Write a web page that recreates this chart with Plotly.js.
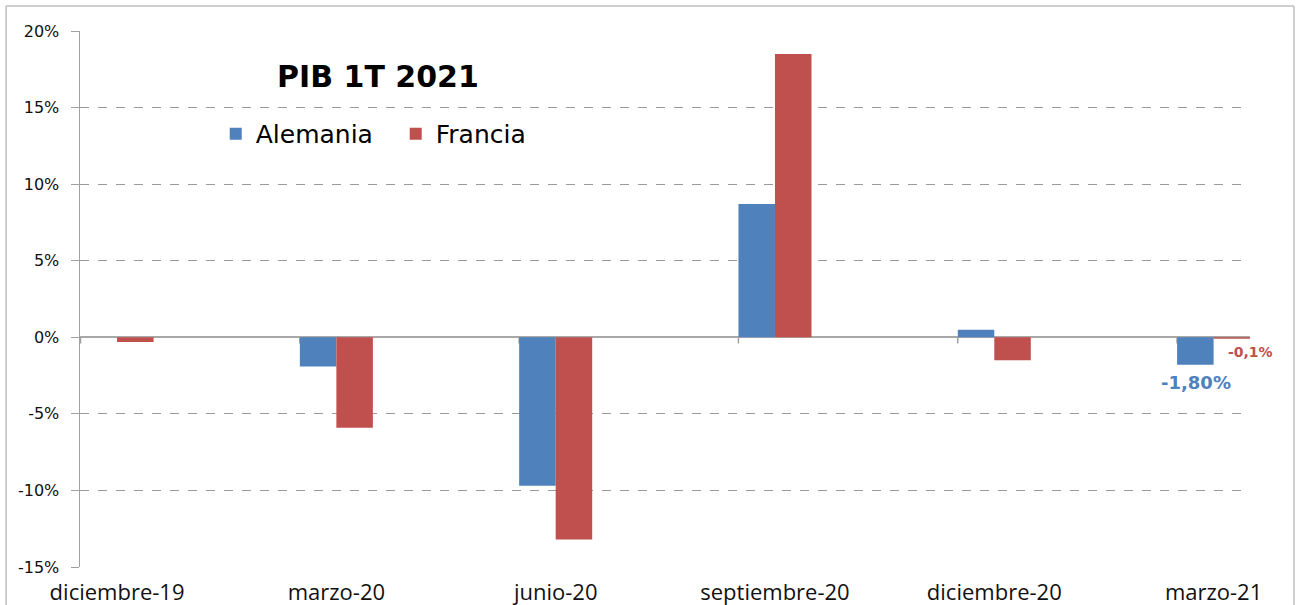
<!DOCTYPE html>
<html>
<head>
<meta charset="utf-8">
<script src="https://cdn.plot.ly/plotly-3.0.1.min.js"></script>
<style>html,body{margin:0;padding:0;background:#fff;}#chart{width:1299px;height:605px;}</style>
</head>
<body>
<div id="chart"></div>
<script>
const categories = ["diciembre-19", "marzo-20", "junio-20", "septiembre-20", "diciembre-20", "marzo-21"];
const alemania = [0.0, -1.9, -9.7, 8.7, 0.5, -1.8];
const francia = [-0.3, -5.9, -13.2, 18.5, -1.5, -0.1];
const yTickVals = [-15, -10, -5, 0, 5, 10, 15, 20];
const yTickText = ["-15%", "-10%", "-5%", "0%", "5%", "10%", "15%", "20%"];
const chartTitle = "PIB 1T 2021";
const labelAlemania = "-1,80%";
const labelFrancia = "-0,1%";

const blue = "#4F81BD";
const red = "#C0504D";
const idx = categories.map((c, i) => i);

const traces = [
  {type: "bar", name: "Alemania", x: idx, y: alemania, marker: {color: blue}, hoverinfo: "skip"},
  {type: "bar", name: "Francia", x: idx, y: francia, marker: {color: red}, hoverinfo: "skip"}
];

const shapes = idx.map(i => ({
  type: "line", xref: "x", yref: "y", x0: i - 1/6, x1: i - 1/6, y0: 0, y1: -0.4,
  line: {color: "#A0A0A0", width: 1.5}, layer: "below"
}));
shapes.push({
  type: "rect", xref: "paper", yref: "paper", x0: -0.0632, x1: 1.0376, y0: -0.2, y1: 1.0466,
  line: {color: "#A0A0A0", width: 1}, fillcolor: "rgba(0,0,0,0)"
});

const last = categories.length - 1;
const layout = {
  width: 1299, height: 605,
  margin: {l: 80, r: 49, t: 31, b: 38},
  paper_bgcolor: "#fff", plot_bgcolor: "#fff",
  barmode: "group", bargap: 0.667, bargroupgap: 0,
  showlegend: true,
  title: {text: "<b>" + chartTitle + "</b>", x: 0.2547, y: 0.916, xref: "paper", yref: "paper",
          xanchor: "center", yanchor: "middle",
          font: {family: "DejaVu Sans", size: 30, color: "#000"}},
  legend: {orientation: "h", x: 0.116, y: 0.808, xanchor: "left", yanchor: "middle",
           entrywidth: 135, entrywidthmode: "pixels",
           font: {family: "DejaVu Sans", size: 25, color: "#000"}, bgcolor: "rgba(0,0,0,0)"},
  xaxis: {
    range: [-0.169, last + 0.166], tickmode: "array", tickvals: idx, ticktext: categories,
    showgrid: false, zeroline: false, showline: false, ticks: "", ticklabelstandoff: 10,
    tickfont: {family: "Open Sans", size: 22, color: "#111"}, fixedrange: true
  },
  yaxis: {
    range: [-15, 20], tickmode: "array", tickvals: yTickVals, ticktext: yTickText,
    showgrid: true, gridcolor: "#9A9A9A", griddash: "dash", gridwidth: 1,
    zeroline: true, zerolinecolor: "#A8A8A8", zerolinewidth: 2,
    showline: true, linecolor: "#A0A0A0", linewidth: 1.5,
    ticks: "outside", ticklen: 8, tickcolor: "#A0A0A0", ticklabelstandoff: 8,
    tickfont: {family: "DejaVu Sans", size: 16, color: "#111"}, fixedrange: true
  },
  shapes: shapes,
  annotations: [
    {xref: "x", yref: "y", x: last, y: alemania[last], xshift: -18, yshift: -5,
     xanchor: "center", yanchor: "top", showarrow: false, text: "<b>" + labelAlemania + "</b>",
     font: {family: "DejaVu Sans", size: 18, color: blue}},
    {xref: "x", yref: "y", x: last, y: francia[last], xshift: 37, yshift: -13,
     xanchor: "center", yanchor: "middle", showarrow: false, text: "<b>" + labelFrancia + "</b>",
     font: {family: "DejaVu Sans", size: 14, color: red}}
  ]
};

Plotly.newPlot("chart", traces, layout, {displayModeBar: false, staticPlot: true});
</script>
</body>
</html>
